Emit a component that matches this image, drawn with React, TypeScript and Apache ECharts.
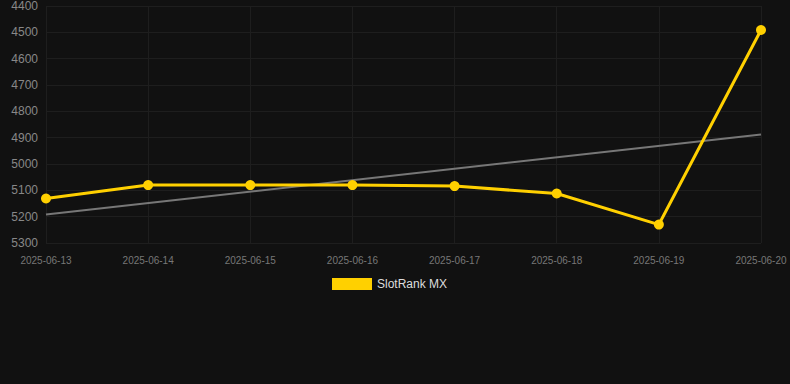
import React, { useEffect, useRef } from "react";
import * as echarts from "echarts";

const categories = ["2025-06-13", "2025-06-14", "2025-06-15", "2025-06-16", "2025-06-17", "2025-06-18", "2025-06-19", "2025-06-20"];
const rankValues = [5131, 5080, 5080, 5080, 5084, 5112, 5230, 4491];
const trendStart = 5192;
const trendEnd = 4888;
const seriesName = "SlotRank MX";

export default function App() {
  const ref = useRef<HTMLDivElement>(null);
  useEffect(() => {
    if (!ref.current) return;
    const chart = echarts.init(ref.current, null, { renderer: "svg" });
    const trendData = categories.map((_, i) => (i === 0 ? trendStart : i === categories.length - 1 ? trendEnd : null));
    chart.setOption({
      animation: false,
      backgroundColor: "#111111",
      grid: { left: 46, right: 29, top: 6, bottom: 141 },
      legend: {
        data: [seriesName],
        top: 273,
        left: 327,
        itemWidth: 40,
        itemHeight: 12,
        icon: "rect",
        textStyle: { color: "#dddddd", fontSize: 12, fontFamily: "Liberation Sans, Arial, sans-serif" },
      },
      xAxis: {
        type: "category",
        data: categories,
        boundaryGap: false,
        axisLine: { show: false },
        axisTick: { show: false },
        axisLabel: { color: "#777777", fontSize: 10, margin: 12, fontFamily: "Liberation Sans, Arial, sans-serif" },
        splitLine: { show: true, lineStyle: { color: "#1e1e1e", width: 1 } },
      },
      yAxis: {
        type: "value",
        inverse: true,
        min: 4400,
        max: 5300,
        interval: 100,
        axisLine: { show: false },
        axisTick: { show: false },
        axisLabel: {
          color: "#888888",
          fontSize: 12,
          margin: 8,
          fontFamily: "Liberation Sans, Arial, sans-serif",
          formatter: (v: number) => String(v),
        },
        splitLine: { show: true, lineStyle: { color: "#1e1e1e", width: 1 } },
      },
      series: [
        {
          name: "trend",
          type: "line",
          data: trendData,
          connectNulls: true,
          symbol: "none",
          lineStyle: { color: "#777777", width: 2 },
          silent: true,
          z: 1,
        },
        {
          name: seriesName,
          type: "line",
          data: rankValues,
          symbol: "circle",
          symbolSize: 10,
          itemStyle: { color: "#FFD000" },
          lineStyle: { color: "#FFD000", width: 3 },
          z: 2,
        },
      ],
    });
    return () => chart.dispose();
  }, []);
  return <div ref={ref} style={{ position: "fixed", left: 0, top: 0, width: 790, height: 384 }} />;
}
